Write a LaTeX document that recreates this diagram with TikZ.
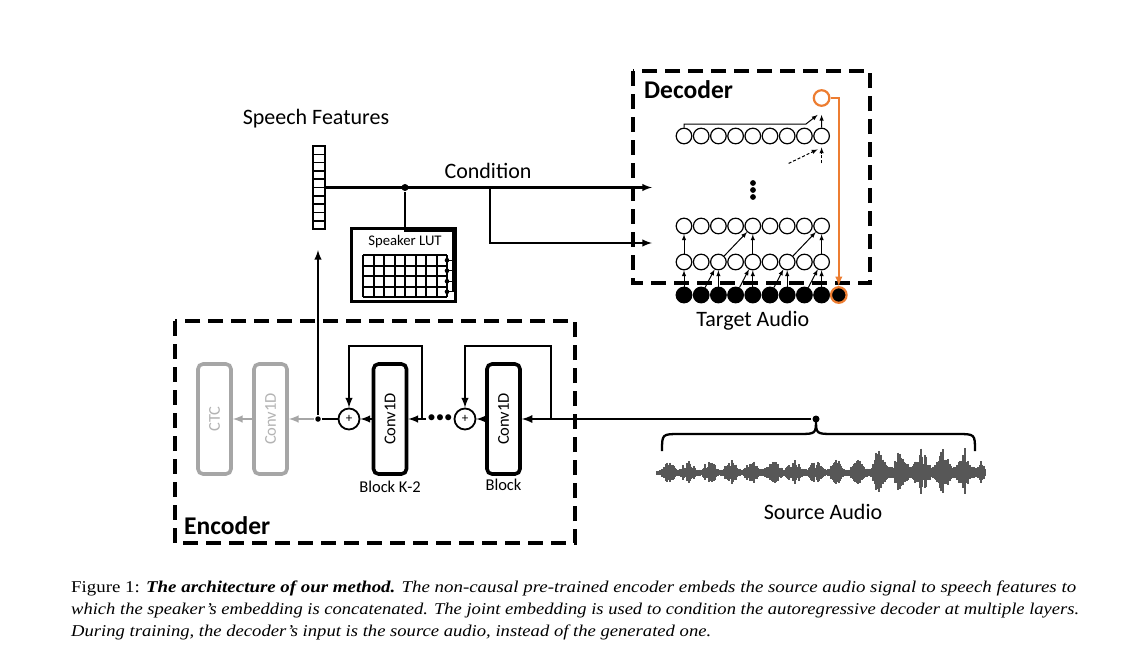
\documentclass[tikz,border=0pt]{standalone}
\usepackage{fontspec}
\setmainfont{Carlito}
\newfontfamily\capfont{Liberation Serif}
\usetikzlibrary{positioning,shapes,arrows,calc}
\definecolor{myorange}{HTML}{ED7D31}
\definecolor{mygray}{HTML}{A6A6A6}
\definecolor{wavegray}{HTML}{575757}

\begin{document}
\begin{tikzpicture}[
	x=1pt,y=-1pt,
	line width=2.3pt,
	lbl/.style={font=\fontsize{22}{24}\selectfont,inner sep=1pt},
	title/.style={font=\fontsize{25.5}{27}\selectfont\bfseries,anchor=west,inner sep=0pt},
	small/.style={font=\fontsize{16.5}{18}\selectfont,inner sep=1pt},
	dashbox/.style={line width=3.5pt,dash pattern=on 15pt off 8pt},
	blockbox/.style={draw,rounded corners=5pt,line width=3.6pt,minimum width=33pt,minimum height=110pt,inner sep=0pt,font=\fontsize{16.5}{18}\selectfont},
	graybox/.style={blockbox,draw=mygray,text=mygray!85},
	plusnode/.style={draw,circle,fill=white,minimum size=21pt,inner sep=0pt,line width=1.8pt,font=\fontsize{13}{13}\selectfont},
	dcirc/.style={draw,circle,fill=white,minimum size=15.6pt,inner sep=0pt,line width=1.2pt},
	dfull/.style={dcirc,fill=black},
	dot/.style={circle,fill=black,minimum size=7pt,inner sep=0pt},
	conn/.style={line width=1pt,-latex},
	caption/.style={font=\capfont\fontsize{16.5}{18}\selectfont,anchor=base west,inner sep=0pt},
	]
	\path[fill=white,use as bounding box] (0,0) rectangle (1125,659);

	% decoder
	\draw[dashbox] (633,71) rectangle (870,283);
	\node[title] (dec) at (643,90) {Decoder};
	\foreach \i in {0,...,8}{
		\node[dfull] (b\i) at (684+17.2*\i,295) {};
		\node[dcirc] (m\i) at (684+17.2*\i,262) {};
		\node[dcirc] (u\i) at (684+17.2*\i,226) {};
		\node[dcirc] (t\i) at (684+17.2*\i,136) {};
	}
	\node[dfull,draw=myorange,line width=2.2pt] (b9) at (838.8,295) {};
	\node[dcirc,draw=myorange,line width=2.2pt] (out) at (821.6,98) {};
	\foreach \i in {0,2,4,6,8} \draw[conn] (b\i) -- (m\i);
	\foreach \i/\j in {1/2,3/4,5/6,7/8} \draw[conn] (b\i) -- (m\j);
	\foreach \i in {0,4,8} \draw[conn] (m\i) -- (u\i);
	\foreach \i/\j in {2/4,6/8} \draw[conn] (m\i) -- (u\j);
	\coordinate (tk) at (806,124);
	\draw[conn] (t0.north) |- (tk) -- ($(out.south)+(-4,8)$);
	\draw[conn] (t8.north) -- ($(out.south)+(0,8)$);
	\draw[conn,dash pattern=on 3pt off 2pt] ($(t8.south)+(0,19)$) -- ($(t8.south)+(0,3)$);
	\draw[conn,dash pattern=on 3pt off 2pt] ($(t8.south)+(-33,19)$) -- ($(t8.south)+(-4,5)$);
	\foreach \k in {0,1,2} \fill (753,183+7*\k) circle (2.9);
	\draw[myorange,line width=2.2pt,-latex] (out.east) -| (b9.north);
	\node[lbl,below=6pt of b4] (tgt) {Target Audio};

	% speech features and speaker table
	\node[draw,line width=1.6pt,minimum width=12pt,minimum height=83pt,inner sep=0pt] (sf) at (319,187.5) {};
	\foreach \k in {1,...,9} \draw[line width=1.6pt] (313,146+8.3*\k) -- (325,146+8.3*\k);
	\node[lbl] (sflbl) at (316,119) {Speech Features};
	\node[draw,line width=3.2pt,minimum width=104pt,minimum height=73pt,inner sep=0pt] (lut) at (403.5,265) {};
	\node[font=\fontsize{14.7}{16}\selectfont,inner sep=0pt] (lutlbl) at (405,242) {Speaker LUT};
	\foreach \k in {0,...,8} \draw[line width=2pt] (363+10.5*\k,255) -- (363+10.5*\k,297);
	\foreach \k in {0,...,4} \draw[line width=2pt] (363,255+10.5*\k) -- (447,255+10.5*\k);
	\node[dot] (cj) at (405,187.5) {};
	\coordinate (cb) at (490,187.5);
	\coordinate (din1) at (652,187.5);
	\coordinate (din2) at (652,243);
	\draw[-latex] (sf.east) -- (din1);
	\draw[-latex] (cb) |- (din2);
	\node[lbl] (condlbl) at (488,171) {Condition};
	\draw (cj) -- (cj |- lut.north);
	\draw[line width=1.1pt] (405,228) -- (405,231) -- (453,231) -- (453,291.75);
	\foreach \k in {0,...,3}{
		\draw[line width=1.1pt] (453,260.25+10.5*\k) -- (447,260.25+10.5*\k);
		\fill (447,260.25+10.5*\k) circle (2.3);
	}

	% encoder
	\draw[dashbox] (175,321) rectangle (575,543);
	\node[title] (enc) at (183,526) {Encoder};
	\node[graybox] (ctc) at (214.5,419) {\rotatebox{90}{CTC}};
	\node[graybox] (gconv) at (270.5,419) {\rotatebox{90}{Conv1D}};
	\node[blockbox] (convA) at (390,419) {\rotatebox{90}{Conv1D}};
	\node[blockbox] (convB) at (503.5,419) {\rotatebox{90}{Conv1D}};
	\node[plusnode] (plus1) at (349,419) {+};
	\node[plusnode] (plus2) at (465,419) {+};
	\node[inner sep=0pt,font=\fontsize{17}{17}\selectfont] (edots) at (440,419) {\textbullet\textbullet\textbullet};
	\node[dot,minimum size=5.5pt] (jn) at (318,419) {};
	\node[dot] (src) at (816,419) {};
	\coordinate (skA) at (422,419);
	\coordinate (skB) at (551,419);
	\coordinate (sfin) at (318,250);
	\draw[-latex,line width=2.6pt] (src) -- (convB.east);
	\draw[-latex] (convB.west) -- (plus2.east);
	\draw[-latex] (edots.west) -- (convA.east);
	\draw[-latex] (convA.west) -- (plus1.east);
	\draw (plus1.west) -- (jn);
	\draw[mygray,-latex] (jn) -- (gconv.east);
	\draw[mygray,-latex] (gconv.west) -- (ctc.east);
	\draw[-latex] (jn) -- (sfin);
	\draw[-latex] (skA) -- ++(0,-73) -| (plus1.north);
	\draw[-latex] (skB) -- ++(0,-73) -| (plus2.north);
	\node[small,below=3pt of convA] (lblA) {Block K-2};
	\node[small,below=1pt of convB] (lblB) {Block};

	% source audio
	\draw (662,451) .. controls (662,434) .. (680,434) -- (798,434) .. controls (816,434) .. (816,419)
		.. controls (816,434) .. (834,434) -- (957,434) .. controls (975,434) .. (975,451);
	\pgfmathsetseed{11}
	\foreach \x in {657,658,...,985}{
		\pgfmathsetmacro{\env}{ifthenelse(\x>872,24,12)*(0.2+0.8*abs(sin((\x-657)*8.5))^2)*(0.3+0.7*rnd)*min(1,(\x-655)/12)*min(1,(987-\x)/10)+1.5}
		\draw[wavegray,line width=1.1pt] (\x,473-\env) -- (\x,473+0.85*\env);
	}
	\node[lbl] (srclbl) at (823,512) {Source Audio};

	% caption
	\node[caption] (cap1) at (70,592.5) {\resizebox{1005pt}{\height}{Figure 1: \textbf{\textit{The architecture of our method.}} \textit{The non-causal pre-trained encoder embeds the source audio signal to speech features to}}};
	\node[caption] (cap2) at (70,614) {\resizebox{1008pt}{\height}{\textit{which the speaker’s embedding is concatenated. The joint embedding is used to condition the autoregressive decoder at multiple layers.}}};
	\node[caption] (cap3) at (70,636) {\resizebox{640pt}{\height}{\textit{During training, the decoder’s input is the source audio, instead of the generated one.}}};
\end{tikzpicture}
\end{document}
